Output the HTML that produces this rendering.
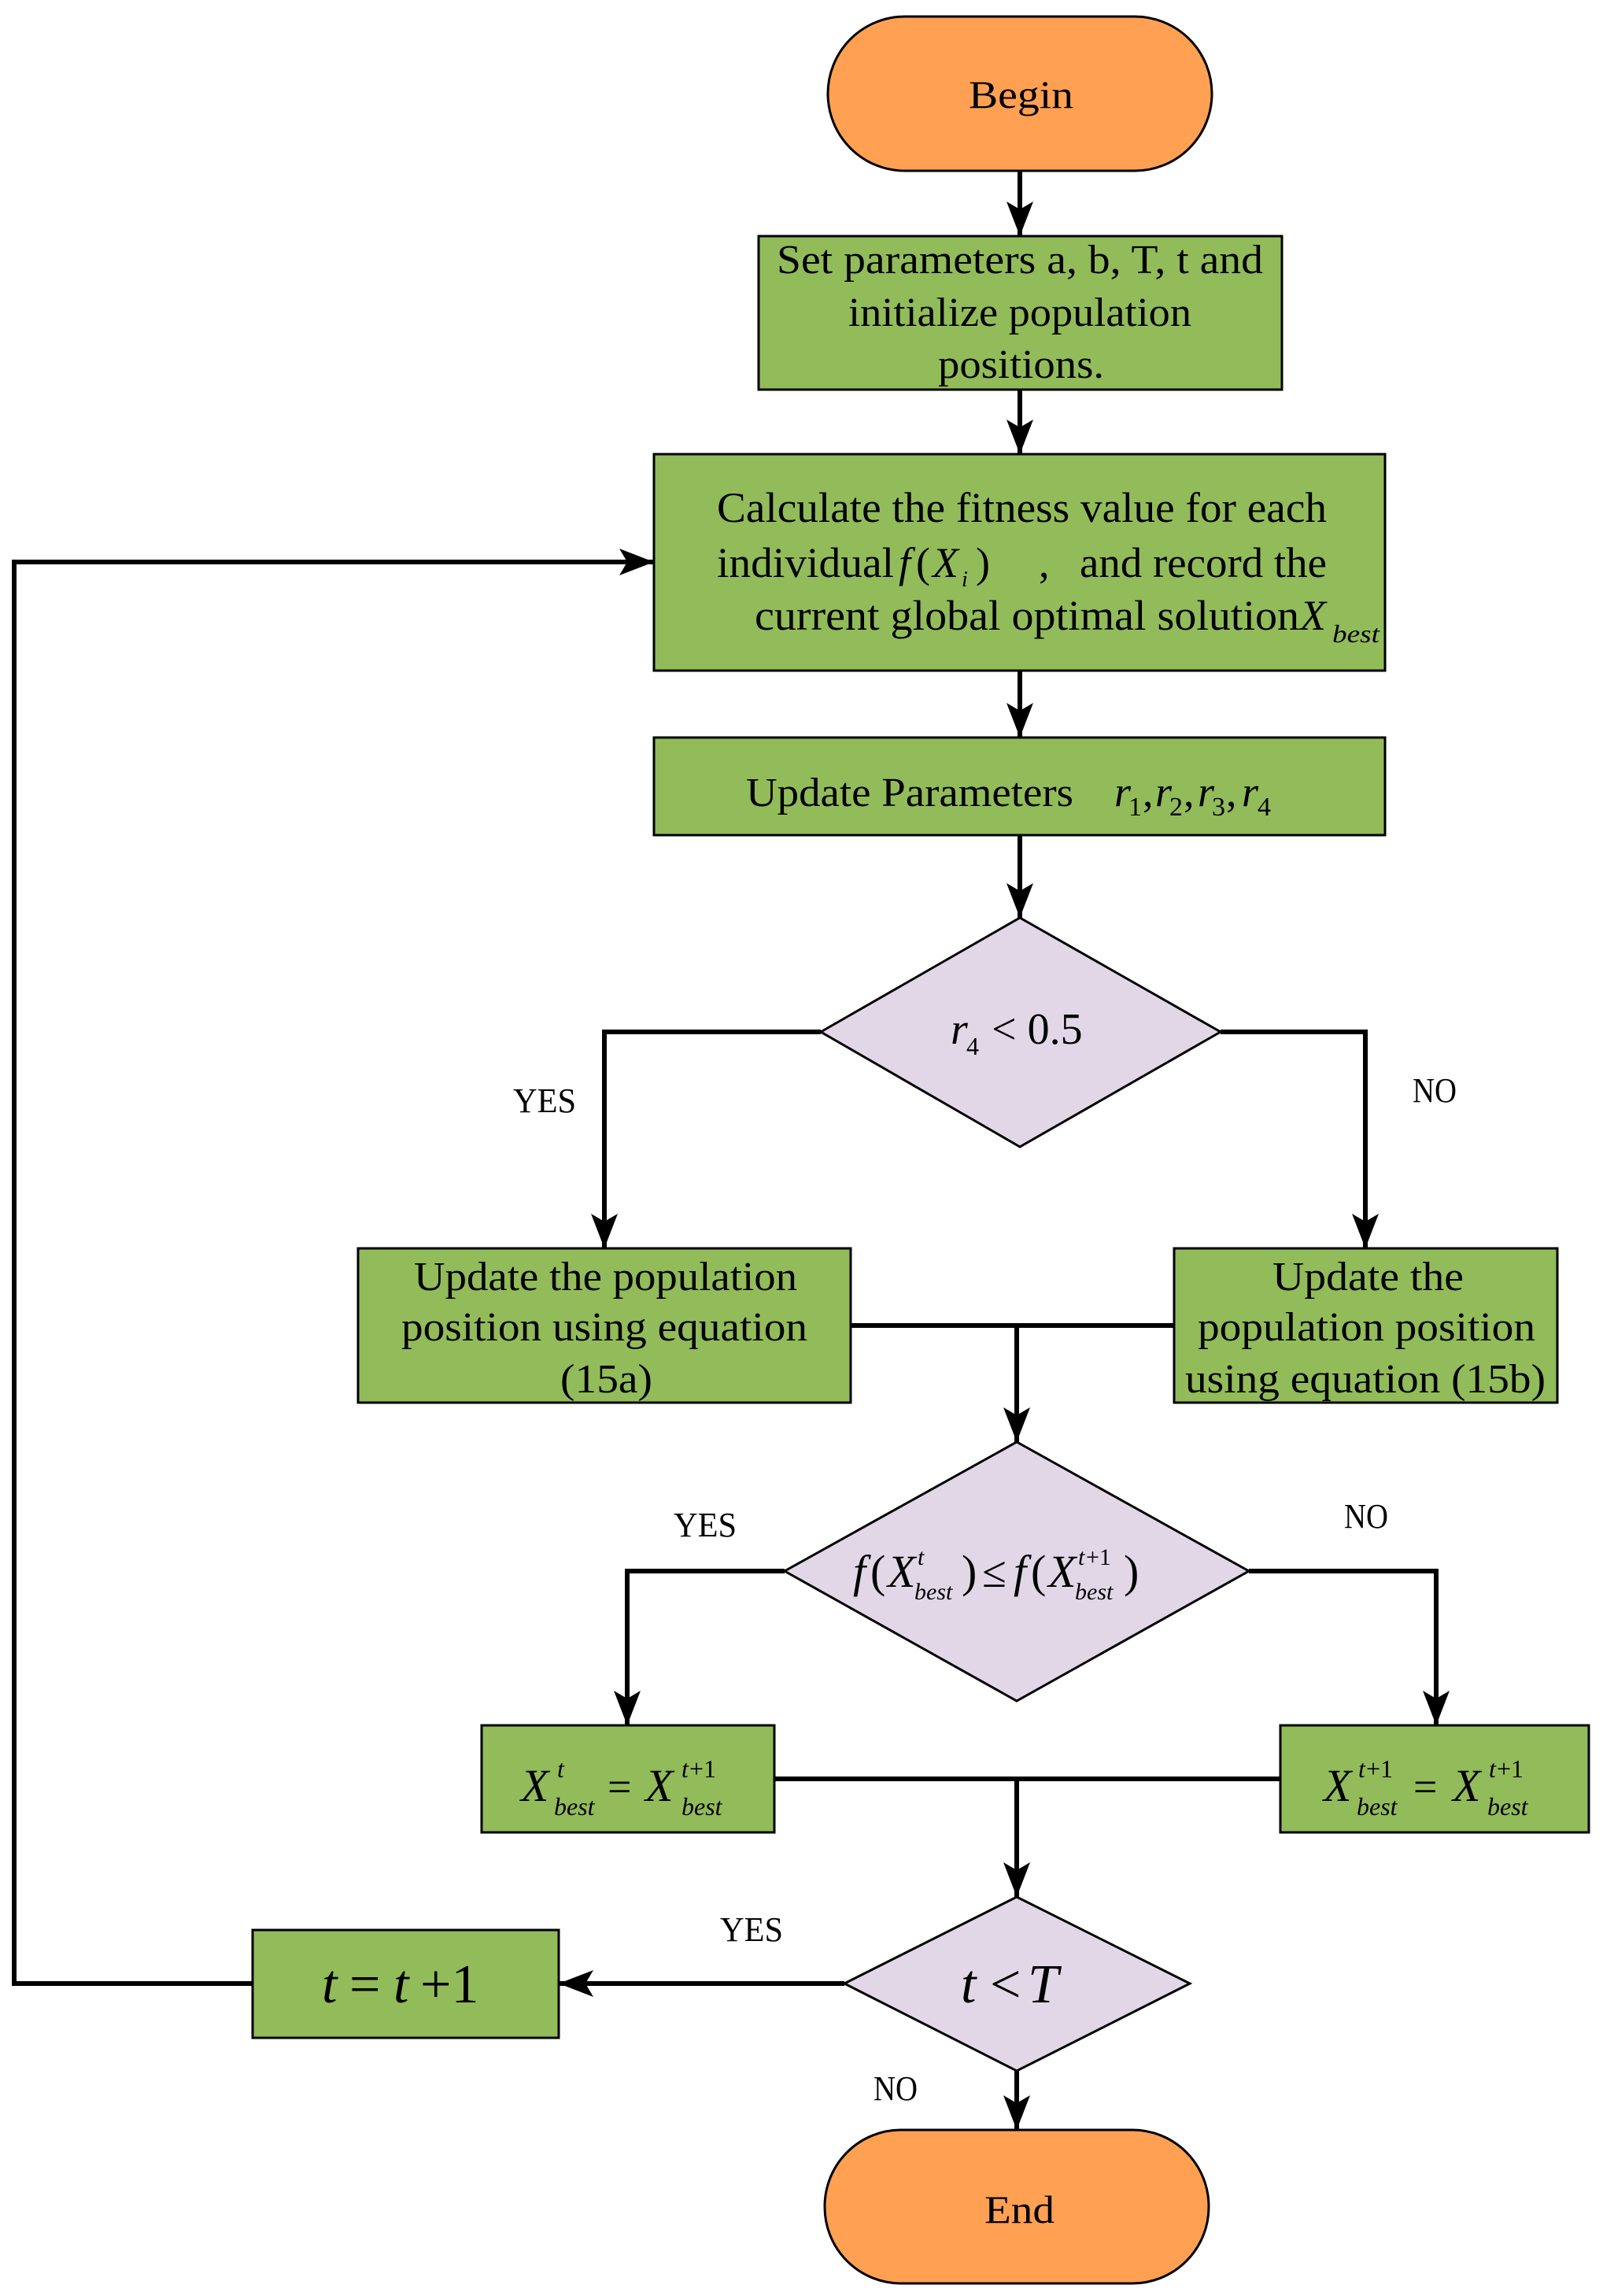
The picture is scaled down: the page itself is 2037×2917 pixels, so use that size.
<!DOCTYPE html>
<html><head><meta charset="utf-8"><style>
html,body{margin:0;padding:0;background:#fff}
svg{display:block}
text{font-family:"Liberation Serif",serif;fill:#000}
.i{font-style:italic}
</style></head><body>
<svg width="2037" height="2917" viewBox="0 0 2037 2917" xmlns="http://www.w3.org/2000/svg">
<defs>
<marker id="a" viewBox="0 0 44 34" refX="44" refY="17" markerWidth="44" markerHeight="34" markerUnits="userSpaceOnUse" orient="auto">
<path d="M0,0 L44,17 L0,34 L10,17 Z" fill="#000"/></marker>
</defs>
<g stroke="#000" stroke-width="3">
<rect x="1052" y="21" width="488" height="196" rx="98" fill="#FFA052"/>
<rect x="964" y="300" width="665" height="195" fill="#92BB5A"/>
<rect x="831" y="577" width="929" height="275" fill="#92BB5A"/>
<rect x="831" y="937" width="929" height="124" fill="#92BB5A"/>
<polygon points="1043,1311 1296,1166 1551,1311 1296,1457" fill="#E1D7E7"/>
<rect x="455" y="1586" width="626" height="196" fill="#92BB5A"/>
<rect x="1492" y="1586" width="487" height="196" fill="#92BB5A"/>
<polygon points="997,1996 1292,1832 1587,1996 1292,2161" fill="#E1D7E7"/>
<rect x="612" y="2192" width="372" height="136" fill="#92BB5A"/>
<rect x="1627" y="2192" width="392" height="136" fill="#92BB5A"/>
<polygon points="1073,2520 1292,2410 1512,2520 1292,2631" fill="#E1D7E7"/>
<rect x="321" y="2452" width="389" height="137" fill="#92BB5A"/>
<rect x="1048" y="2706" width="488" height="195" rx="97" fill="#FFA052"/>
</g>
<g stroke="#000" stroke-width="6" fill="none">
<line x1="1296" y1="217" x2="1296" y2="300" marker-end="url(#a)"/>
<line x1="1296" y1="495" x2="1296" y2="577" marker-end="url(#a)"/>
<line x1="1296" y1="852" x2="1296" y2="937" marker-end="url(#a)"/>
<line x1="1296" y1="1061" x2="1296" y2="1166" marker-end="url(#a)"/>
<polyline points="1043,1311 768,1311 768,1586" marker-end="url(#a)"/>
<polyline points="1551,1311 1735,1311 1735,1586" marker-end="url(#a)"/>
<line x1="1081" y1="1684" x2="1492" y2="1684"/>
<line x1="1292" y1="1684" x2="1292" y2="1832" marker-end="url(#a)"/>
<polyline points="997,1996 797,1996 797,2192" marker-end="url(#a)"/>
<polyline points="1587,1996 1825,1996 1825,2192" marker-end="url(#a)"/>
<line x1="984" y1="2260" x2="1627" y2="2260"/>
<line x1="1292" y1="2260" x2="1292" y2="2410" marker-end="url(#a)"/>
<line x1="1073" y1="2520" x2="710" y2="2520" marker-end="url(#a)"/>
<line x1="1292" y1="2631" x2="1292" y2="2706" marker-end="url(#a)"/>
<polyline points="321,2520 18,2520 18,714 831,714" marker-end="url(#a)"/>
</g>
<text x="1231" y="137" font-size="50" textLength="133" lengthAdjust="spacingAndGlyphs">Begin</text>
<text x="987" y="347" font-size="52" textLength="618" lengthAdjust="spacingAndGlyphs">Set parameters a, b, T, t and</text>
<text x="1078" y="414" font-size="52" textLength="436" lengthAdjust="spacingAndGlyphs">initialize population</text>
<text x="1192" y="480" font-size="52" textLength="211" lengthAdjust="spacingAndGlyphs">positions.</text>
<text x="911" y="663" font-size="54" textLength="775" lengthAdjust="spacingAndGlyphs">Calculate the fitness value for each</text>
<text x="911" y="733" font-size="54" textLength="225" lengthAdjust="spacingAndGlyphs">individual</text>
<text x="1142" y="733" font-size="54" class="i">f</text>
<text x="1164" y="733" font-size="54">(</text>
<text x="1185" y="733" font-size="54" class="i">X</text>
<text x="1222" y="745" font-size="28" class="i">i</text>
<text x="1240" y="733" font-size="54">)</text>
<text x="1320" y="733" font-size="54">,</text>
<text x="1372" y="733" font-size="54" textLength="314" lengthAdjust="spacingAndGlyphs">and record the</text>
<text x="959" y="800" font-size="54" textLength="692" lengthAdjust="spacingAndGlyphs">current global optimal solution</text>
<text x="1652" y="800" font-size="54" class="i">X</text>
<text x="1693" y="816" font-size="32" class="i" textLength="60" lengthAdjust="spacingAndGlyphs">best</text>
<text x="948" y="1024" font-size="52" textLength="416" lengthAdjust="spacingAndGlyphs">Update Parameters</text>
<text x="1416" y="1024" font-size="54" class="i">r</text><text x="1434" y="1036" font-size="34">1</text><text x="1452" y="1024" font-size="54">,</text>
<text x="1468" y="1024" font-size="54" class="i">r</text><text x="1486" y="1036" font-size="34">2</text><text x="1504" y="1024" font-size="54">,</text>
<text x="1522" y="1024" font-size="54" class="i">r</text><text x="1540" y="1036" font-size="34">3</text><text x="1558" y="1024" font-size="54">,</text>
<text x="1578" y="1024" font-size="54" class="i">r</text><text x="1598" y="1036" font-size="34">4</text>
<text x="1208" y="1326" font-size="56" class="i">r</text><text x="1228" y="1340" font-size="32">4</text>
<text x="1260" y="1326" font-size="56">&lt; 0.5</text>
<text x="652" y="1413" font-size="44" textLength="80" lengthAdjust="spacingAndGlyphs">YES</text>
<text x="1795" y="1400" font-size="44" textLength="56" lengthAdjust="spacingAndGlyphs">NO</text>
<text x="526" y="1639" font-size="52" textLength="487" lengthAdjust="spacingAndGlyphs">Update the population</text>
<text x="510" y="1703" font-size="52" textLength="516" lengthAdjust="spacingAndGlyphs">position using equation</text>
<text x="712" y="1769" font-size="52" textLength="117" lengthAdjust="spacingAndGlyphs">(15a)</text>
<text x="1617" y="1639" font-size="52" textLength="243" lengthAdjust="spacingAndGlyphs">Update the</text>
<text x="1522" y="1703" font-size="52" textLength="429" lengthAdjust="spacingAndGlyphs">population position</text>
<text x="1506" y="1769" font-size="52" textLength="458" lengthAdjust="spacingAndGlyphs">using equation (15b)</text>
<text x="1084" y="2016" font-size="58" class="i">f</text><text x="1106" y="2016" font-size="58">(</text>
<text x="1128" y="2016" font-size="58" class="i">X</text><text x="1166" y="1988" font-size="30" class="i">t</text>
<text x="1162" y="2032" font-size="30" class="i">best</text><text x="1222" y="2016" font-size="58">)</text>
<text x="1248" y="2016" font-size="56">≤</text>
<text x="1288" y="2016" font-size="58" class="i">f</text><text x="1310" y="2016" font-size="58">(</text>
<text x="1332" y="2016" font-size="58" class="i">X</text><text x="1370" y="1988" font-size="30" class="i">t</text><text x="1380" y="1988" font-size="30">+1</text>
<text x="1366" y="2032" font-size="30" class="i">best</text><text x="1428" y="2016" font-size="58">)</text>
<text x="856" y="1952" font-size="44" textLength="80" lengthAdjust="spacingAndGlyphs">YES</text>
<text x="1708" y="1941" font-size="44" textLength="56" lengthAdjust="spacingAndGlyphs">NO</text>
<text x="662" y="2288" font-size="58" class="i">X</text><text x="708" y="2258" font-size="32" class="i">t</text>
<text x="704" y="2306" font-size="32" class="i">best</text><text x="772" y="2288" font-size="54">=</text>
<text x="820" y="2288" font-size="58" class="i">X</text><text x="866" y="2258" font-size="32" class="i">t</text><text x="876" y="2258" font-size="32">+1</text>
<text x="866" y="2306" font-size="32" class="i">best</text>
<text x="1682" y="2288" font-size="58" class="i">X</text><text x="1726" y="2258" font-size="32" class="i">t</text><text x="1736" y="2258" font-size="32">+1</text>
<text x="1724" y="2306" font-size="32" class="i">best</text><text x="1796" y="2288" font-size="54">=</text>
<text x="1846" y="2288" font-size="58" class="i">X</text><text x="1892" y="2258" font-size="32" class="i">t</text><text x="1902" y="2258" font-size="32">+1</text>
<text x="1890" y="2306" font-size="32" class="i">best</text>
<text x="1221" y="2544" font-size="70" class="i">t</text><text x="1258" y="2544" font-size="70">&lt;</text><text x="1306" y="2544" font-size="70" class="i">T</text>
<text x="409" y="2544" font-size="70" class="i">t</text><text x="444" y="2544" font-size="70">=</text>
<text x="500" y="2544" font-size="70" class="i">t</text><text x="534" y="2544" font-size="70">+1</text>
<text x="915" y="2466" font-size="44" textLength="80" lengthAdjust="spacingAndGlyphs">YES</text>
<text x="1110" y="2668" font-size="44" textLength="56" lengthAdjust="spacingAndGlyphs">NO</text>
<text x="1251" y="2824" font-size="50" textLength="89" lengthAdjust="spacingAndGlyphs">End</text>
</svg>
</body></html>
